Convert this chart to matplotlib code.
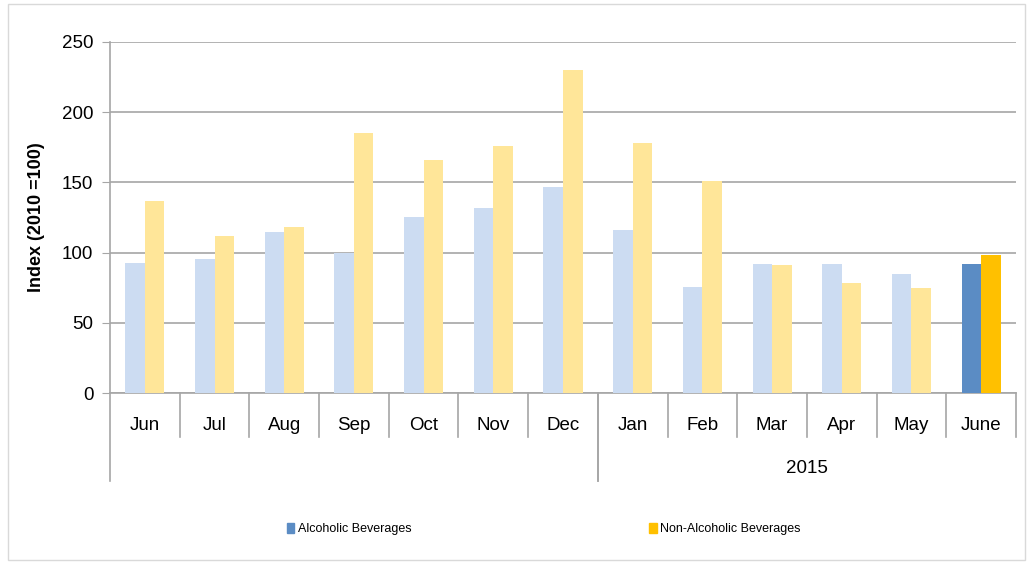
import matplotlib.pyplot as plt
import numpy as np
from matplotlib.patches import Patch, Rectangle
import matplotlib.transforms as mtransforms

plt.rcParams['font.family'] = ['Liberation Sans', 'DejaVu Sans']

# data
months = ['Jun', 'Jul', 'Aug', 'Sep', 'Oct', 'Nov', 'Dec',
          'Jan', 'Feb', 'Mar', 'Apr', 'May', 'June']
alcoholic = [92.5, 95.5, 114.5, 100, 125, 131.5, 146.5, 116, 75.5, 92, 92, 85, 92]
non_alcoholic = [137, 112, 118, 185, 166, 176, 230, 178, 151, 91, 78.5, 74.5, 98]
groups = ['', '2015']          # year labels under the months
group_starts = [0, 7]          # index of first month of each group
y_ticks = [0, 50, 100, 150, 200, 250]

grid_col = '#A6A6A6'
alc_light, alc_dark = '#CCDCF2', '#5B8CC4'
non_light, non_dark = '#FFE699', '#FFC000'

fig = plt.figure(figsize=(10.32, 5.64), dpi=100)
ax = fig.add_axes([110/1032, 1 - 393/564, 906/1032, 351/564])

x = np.arange(len(months))
w = 0.28
n = len(months)
alc_cols = [alc_light] * (n - 1) + [alc_dark]
non_cols = [non_light] * (n - 1) + [non_dark]
ax.bar(x - w/2, alcoholic, width=w, color=alc_cols, zorder=3)
ax.bar(x + w/2, non_alcoholic, width=w, color=non_cols, zorder=3)

ax.set_xlim(-0.5, n - 0.5)
ax.set_ylim(0, 250)
ax.set_yticks(y_ticks)
ax.yaxis.grid(True, color=grid_col, linewidth=1.2, zorder=0)
ax.tick_params(axis='y', length=6, color=grid_col, labelsize=13.5, pad=6)
ax.set_xticks([])
for s in ['top', 'right']:
    ax.spines[s].set_visible(False)
for s in ['left', 'bottom']:
    ax.spines[s].set_color(grid_col)
    ax.spines[s].set_linewidth(1.2)
ax.set_ylabel('Index (2010 =100)', fontsize=13, fontweight='bold', labelpad=12)

# two-level category axis
trans = mtransforms.blended_transform_factory(ax.transData, ax.transAxes)
for i, m in enumerate(months):
    ax.text(i, -0.092, m, transform=trans, ha='center', va='center', fontsize=13.5)
for i in range(1, n + 1):
    bottom = -0.2507 if i in group_starts else -0.1254
    ax.plot([i - 0.5, i - 0.5], [0, bottom], transform=trans, color=grid_col,
            lw=1.2, clip_on=False)
for k, start in enumerate(group_starts):
    ax.plot([start - 0.5, start - 0.5], [0, -0.2507], transform=trans,
            color=grid_col, lw=1.2, clip_on=False)
    end = group_starts[k + 1] if k + 1 < len(group_starts) else n
    ax.text((start + end - 1) / 2, -0.214, groups[k], transform=trans,
            ha='center', va='center', fontsize=13.5)

handles = [Patch(color=alc_dark, label='Alcoholic Beverages'),
           Patch(color=non_dark, label='Non-Alcoholic Beverages')]
fig.legend(handles=handles, loc='center', bbox_to_anchor=(0.527, 1 - 529/564),
           ncol=2, frameon=False, fontsize=9, handlelength=0.6,
           handleheight=0.9, handletextpad=0.3, columnspacing=19)

# thin border around chart
fig.patches.append(Rectangle((8/1032, 4/564), 1017/1032, 556/564, transform=fig.transFigure,
                             fill=False, edgecolor='#D9D9D9', lw=1))

fig.savefig('out.png', dpi=100)
